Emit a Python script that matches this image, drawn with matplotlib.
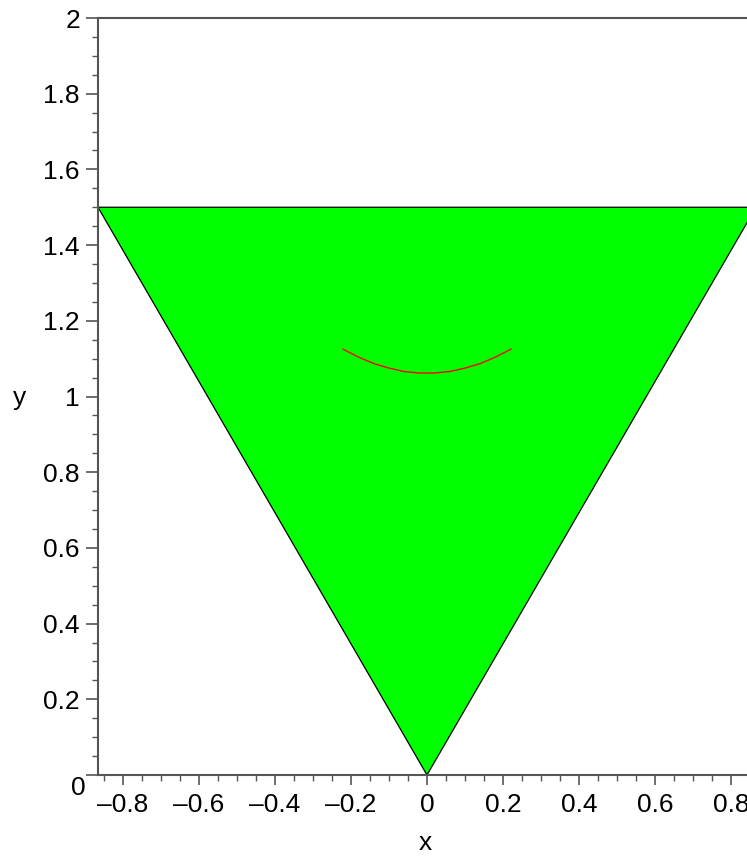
import matplotlib
matplotlib.use("Agg")
import matplotlib.pyplot as plt
from matplotlib.ticker import MultipleLocator, FuncFormatter

plt.rcParams['font.family'] = ['Liberation Sans', 'DejaVu Sans']

# Triangle region (vertices)
tri_x = [-0.866, 0.866, 0.0]
tri_y = [1.5, 1.5, 0.0]

# Red curve points
curve_x = [-0.221, -0.18, -0.14, -0.10, -0.06, -0.02, 0.02, 0.06, 0.10, 0.14, 0.18, 0.221]
curve_y = [1.125, 1.104, 1.087, 1.075, 1.066, 1.062, 1.062, 1.066, 1.075, 1.087, 1.104, 1.125]

xlim = (-0.866, 0.866)
ylim = (0.0, 2.0)
x_ticks = [-0.8, -0.6, -0.4, -0.2, 0, 0.2, 0.4, 0.6, 0.8]
y_ticks = [0, 0.2, 0.4, 0.6, 0.8, 1, 1.2, 1.4, 1.6, 1.8, 2]

W, H = 747, 857
fig = plt.figure(figsize=(W/100, H/100), dpi=100)
left, right, top, bottom = 98, 756, 18, 775
ax = fig.add_axes([left/W, 1 - bottom/H, (right-left)/W, (bottom-top)/H])

ax.fill(tri_x, tri_y, facecolor='#00ff00', edgecolor='black', linewidth=0.9, zorder=2)
ax.plot(curve_x, curve_y, color='#ff0000', linewidth=1.0, zorder=3)

ax.set_xlim(*xlim)
ax.set_ylim(*ylim)

spine_col = '#555555'
for s in ['left', 'bottom', 'top']:
    ax.spines[s].set_color(spine_col)
    ax.spines[s].set_linewidth(1.5)
ax.spines['right'].set_visible(False)

ax.set_xticks(x_ticks)
ax.set_yticks(y_ticks)
ax.xaxis.set_minor_locator(MultipleLocator(0.05))
ax.yaxis.set_minor_locator(MultipleLocator(0.05))

def fmt(v):
    if abs(v) < 1e-9:
        return '0'
    s = ('%.1f' % v)
    if s.endswith('.0'):
        s = s[:-2]
    return s.replace('-', '\u2013')

ax.xaxis.set_major_formatter(FuncFormatter(lambda v, p: fmt(v)))
# y "0" label is placed separately (Maple puts it a bit lower)
ax.yaxis.set_major_formatter(FuncFormatter(lambda v, p: '' if abs(v) < 1e-9 else fmt(v)))

FS = 19
ax.tick_params(axis='both', which='major', direction='out', length=7, width=1.2,
               color=spine_col, labelsize=FS, labelcolor='black')
ax.tick_params(axis='both', which='minor', direction='out', length=4, width=1.0,
               color=spine_col)
ax.tick_params(axis='x', which='major', pad=6)
ax.tick_params(axis='y', which='major', pad=4, length=9)
ax.tick_params(top=False, right=False, which='both')

fig.text(78/W, 1 - 788/H, '0', ha='center', va='center', fontsize=FS)
fig.text(425/W, 1 - 843/H, 'x', ha='center', va='center', fontsize=FS)
fig.text(20/W, 1 - 398/H, 'y', ha='center', va='center', fontsize=FS)

fig.savefig('out.png', dpi=100)
